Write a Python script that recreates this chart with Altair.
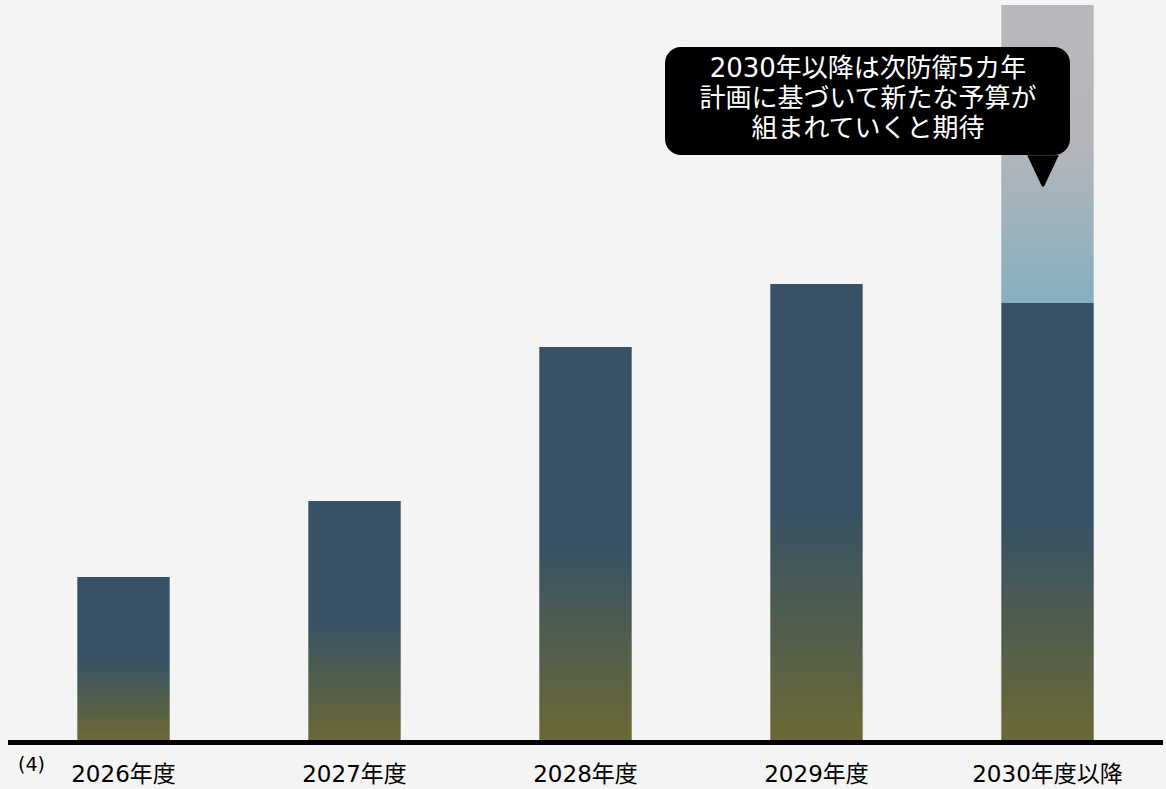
import altair as alt
import pandas as pd

years = ["2026年度", "2027年度", "2028年度", "2029年度", "2030年度以降"]
values = [16.3, 23.9, 39.3, 45.6, 43.7]
extra_base = [43.7]
extra_top = [73.5]
callout_lines = ["2030年以降は次防衛5カ年", "計画に基づいて新たな予算が", "組まれていくと期待"]
note = "(4)"

FONT = "DejaVu Sans, Noto Sans CJK JP"

df = pd.DataFrame({"year": years, "value": values})
df_extra = pd.DataFrame({"year": [years[-1]], "lo": extra_base, "hi": extra_top})

x_enc = alt.X("year:N", sort=years,
              scale=alt.Scale(paddingInner=0.6, paddingOuter=0.3),
              axis=alt.Axis(title=None, domain=False, ticks=False, labelAngle=0,
                            labelFontSize=23, labelColor="#000000", labelFont=FONT,
                            labelPadding=23))
y_scale = alt.Scale(domain=[0, 74])

main_grad = alt.Gradient(gradient="linear", x1=0, y1=0, x2=0, y2=1,
                         stops=[alt.GradientStop(offset=0, color="#375266"),
                                alt.GradientStop(offset=0.5, color="#375266"),
                                alt.GradientStop(offset=1, color="#6b6935")])
top_grad = alt.Gradient(gradient="linear", x1=0, y1=0, x2=0, y2=1,
                        stops=[alt.GradientStop(offset=0, color="#b9b7bb"),
                               alt.GradientStop(offset=0.45, color="#b6b6ba"),
                               alt.GradientStop(offset=1, color="#86afc0")])

bars = alt.Chart(df).mark_bar(fill=main_grad).encode(
    x=x_enc,
    y=alt.Y("value:Q", scale=y_scale, axis=None),
)

top = alt.Chart(df_extra).mark_bar(fill=top_grad).encode(
    x=alt.X("year:N", sort=years),
    y=alt.Y("hi:Q", scale=y_scale, axis=None),
    y2="lo:Q",
)

base = alt.Chart(pd.DataFrame({"z": [0]})).mark_rule(color="#000000", strokeWidth=5, yOffset=2.5).encode(
    y=alt.Y("z:Q", scale=y_scale, axis=None),
    x=alt.value(0), x2=alt.value(1155),
)

box = alt.Chart(pd.DataFrame({"a": [0]})).mark_rect(color="#000000", cornerRadius=16).encode(
    x=alt.value(657), x2=alt.value(1062), y=alt.value(47), y2=alt.value(155),
)

pointer = alt.Chart(pd.DataFrame({"a": [0]})).mark_point(
    shape="M-1,-1L1,-1L0.08,0.95Q0,1.05,-0.08,0.95Z", filled=True, color="#000000", opacity=1,
    size=1000, strokeWidth=0,
).encode(x=alt.value(1035), y=alt.value(171))

ctext = alt.Chart(pd.DataFrame({"t": callout_lines, "i": [0, 1, 2]})).mark_text(
    color="#ffffff", fontSize=26, font=FONT, align="center", baseline="middle",
).encode(
    text="t:N",
    x=alt.value(860),
    y=alt.Y("i:O", scale=alt.Scale(range=[69, 129], padding=0, paddingOuter=0, paddingInner=0), axis=None),
)

note_t = alt.Chart(pd.DataFrame({"t": [note]})).mark_text(
    color="#000000", fontSize=19, font=FONT, align="left", baseline="middle",
).encode(text="t:N", x=alt.value(10), y=alt.value(765))

chart = alt.layer(bars, top, base, box, pointer, ctext, note_t).properties(
    width=1155, height=740,
    padding={"left": 8, "right": 3, "top": 0, "bottom": 49},
    autosize=alt.AutoSizeParams(type="none"),
    background="#f4f4f4",
).configure_view(stroke=None)

chart.save("out.html", embed_options={"renderer": "svg", "actions": False})
